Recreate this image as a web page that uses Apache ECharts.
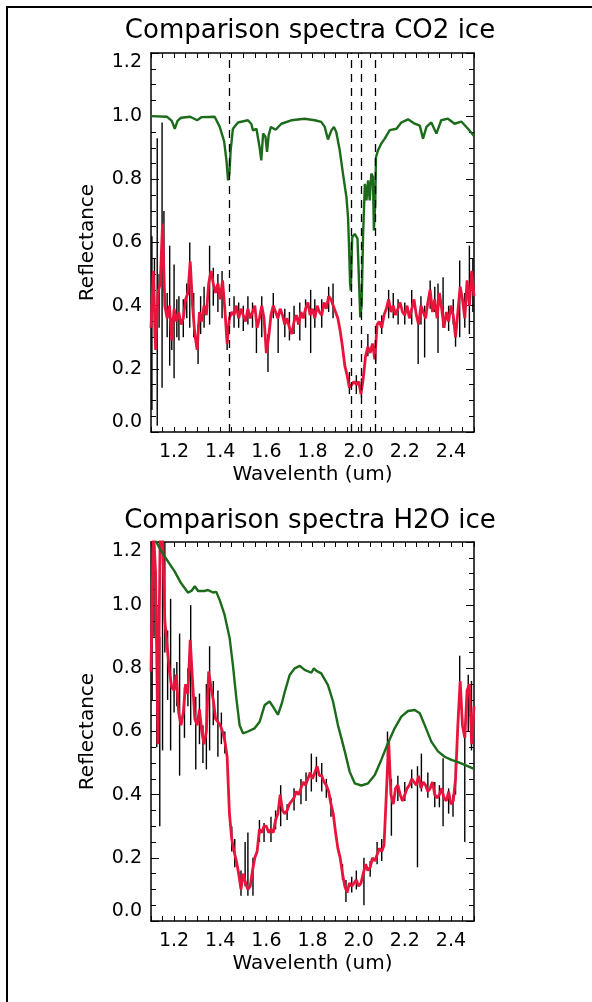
<!DOCTYPE html>
<html>
<head>
<meta charset="utf-8">
<title>Comparison spectra</title>
<script src="https://cdn.jsdelivr.net/npm/echarts@6/dist/echarts.min.js"></script>
<style>
  html, body { margin: 0; padding: 0; background: #fff; overflow: hidden; }
  #chart { width: 592px; height: 1002px; }
  .frame {
    position: absolute; left: 6px; top: 6px; width: 600px; height: 1010px;
    border-left: 2px solid #000; border-top: 2px solid #000; pointer-events: none;
  }
</style>
</head>
<body>
<div id="chart"></div>
<div class="frame"></div>
<script>
// wavelength grid of the measured spectra (um)
var waveStart = 1.10
var waveStep = 0.01

// CO2 panel: measured reflectance (red), one value per 0.01 um from 1.10 to 2.50
var co2Red = [
  0.33, 0.51, 0.26, 0.44, 0.47, 0.66, 0.40, 0.36, 0.40, 0.29,
  0.39, 0.35, 0.38, 0.34, 0.36, 0.42, 0.44, 0.54, 0.40, 0.31,
  0.26, 0.38, 0.35, 0.40, 0.37, 0.47, 0.51, 0.47, 0.44, 0.47,
  0.42, 0.48, 0.39, 0.28, 0.36, 0.38, 0.37, 0.40, 0.36, 0.39,
  0.37, 0.35, 0.39, 0.36, 0.38, 0.40, 0.33, 0.36, 0.40, 0.36,
  0.25, 0.30, 0.37, 0.40, 0.38, 0.36, 0.39, 0.37, 0.34, 0.36,
  0.33, 0.31, 0.35, 0.37, 0.34, 0.38, 0.36, 0.39, 0.41, 0.37,
  0.39, 0.36, 0.40, 0.38, 0.37, 0.41, 0.39, 0.43, 0.42, 0.40,
  0.38, 0.36, 0.32, 0.27, 0.21, 0.18, 0.14, 0.15, 0.16, 0.15,
  0.16, 0.12, 0.17, 0.24, 0.27, 0.25, 0.28, 0.23, 0.34, 0.35,
  0.33, 0.37, 0.39, 0.42, 0.38, 0.40, 0.37, 0.39, 0.41, 0.38,
  0.37, 0.40, 0.36, 0.39, 0.42, 0.37, 0.34, 0.40, 0.38, 0.36,
  0.41, 0.45, 0.38, 0.42, 0.36, 0.44, 0.39, 0.33, 0.38, 0.35,
  0.40, 0.37, 0.30, 0.38, 0.46, 0.42, 0.36, 0.48, 0.40, 0.51,
  0.43
]

// CO2 panel: noise bars of the raw spectrum [wavelength, low, high]
var co2Err = [
  [1.104, 0.07, 0.62], [1.115, 0.30, 0.55], [1.127, 0.02, 0.93], [1.135, 0.33, 0.50],
  [1.148, 0.14, 0.98], [1.156, 0.45, 0.70], [1.170, 0.30, 0.44], [1.181, 0.21, 0.59],
  [1.190, 0.26, 0.36], [1.200, 0.17, 0.53], [1.212, 0.30, 0.42], [1.221, 0.29, 0.43],
  [1.240, 0.30, 0.42], [1.255, 0.36, 0.47], [1.268, 0.33, 0.60], [1.285, 0.30, 0.44],
  [1.304, 0.215, 0.34], [1.315, 0.31, 0.43], [1.330, 0.33, 0.46], [1.354, 0.34, 0.59],
  [1.370, 0.40, 0.52], [1.390, 0.38, 0.50], [1.408, 0.36, 0.51], [1.430, 0.26, 0.33],
  [1.460, 0.33, 0.43], [1.480, 0.33, 0.41], [1.500, 0.32, 0.40], [1.520, 0.34, 0.43],
  [1.540, 0.33, 0.41], [1.557, 0.25, 0.36], [1.580, 0.30, 0.43], [1.607, 0.19, 0.31],
  [1.630, 0.36, 0.44], [1.651, 0.25, 0.36], [1.680, 0.30, 0.39], [1.700, 0.29, 0.38],
  [1.720, 0.31, 0.40], [1.745, 0.29, 0.41], [1.770, 0.33, 0.42], [1.792, 0.25, 0.45],
  [1.810, 0.33, 0.42], [1.840, 0.33, 0.42], [1.870, 0.38, 0.46], [1.889, 0.36, 0.47],
  [1.960, 0.12, 0.19], [1.990, 0.12, 0.18], [2.012, 0.11, 0.17], [2.040, 0.24, 0.31],
  [2.074, 0.215, 0.29], [2.100, 0.31, 0.37], [2.130, 0.36, 0.45], [2.150, 0.36, 0.44],
  [2.171, 0.34, 0.42], [2.200, 0.34, 0.41], [2.230, 0.34, 0.45], [2.258, 0.215, 0.36],
  [2.270, 0.34, 0.43], [2.286, 0.236, 0.40], [2.310, 0.39, 0.48], [2.330, 0.38, 0.46],
  [2.344, 0.25, 0.47], [2.366, 0.33, 0.49], [2.390, 0.32, 0.40], [2.410, 0.34, 0.42],
  [2.420, 0.27, 0.34], [2.438, 0.30, 0.543], [2.460, 0.33, 0.44], [2.480, 0.31, 0.59],
  [2.495, 0.38, 0.55]
]

// CO2 ice lab spectrum (green) [wavelength, reflectance]
var co2Lab = [
  [1.100, 1.000], [1.170, 0.998], [1.190, 0.985], [1.203, 0.960], [1.215, 0.985],
  [1.230, 0.995], [1.270, 0.998], [1.300, 0.987], [1.320, 0.997], [1.376, 0.998],
  [1.398, 0.966], [1.417, 0.920], [1.427, 0.860], [1.434, 0.797], [1.440, 0.820],
  [1.445, 0.890], [1.455, 0.960], [1.477, 0.980], [1.520, 0.987], [1.535, 0.975],
  [1.542, 0.955], [1.557, 0.960], [1.571, 0.900], [1.578, 0.860], [1.586, 0.945],
  [1.596, 0.935], [1.603, 0.887], [1.610, 0.940], [1.620, 0.966], [1.640, 0.957],
  [1.665, 0.976], [1.708, 0.987], [1.766, 0.992], [1.810, 0.987], [1.838, 0.982],
  [1.853, 0.966], [1.867, 0.926], [1.882, 0.955], [1.893, 0.966], [1.903, 0.950],
  [1.918, 0.892], [1.932, 0.818], [1.947, 0.744], [1.954, 0.680], [1.958, 0.596],
  [1.963, 0.469], [1.966, 0.448], [1.972, 0.617], [1.983, 0.627], [1.995, 0.612],
  [2.002, 0.469], [2.007, 0.363], [2.013, 0.400], [2.019, 0.617], [2.027, 0.786],
  [2.034, 0.733], [2.041, 0.797], [2.048, 0.733], [2.055, 0.818], [2.062, 0.808],
  [2.066, 0.638], [2.072, 0.723], [2.075, 0.870], [2.084, 0.892], [2.098, 0.913],
  [2.113, 0.929], [2.135, 0.956], [2.164, 0.960], [2.185, 0.980], [2.214, 0.990],
  [2.243, 0.976], [2.265, 0.970], [2.279, 0.929], [2.294, 0.966], [2.315, 0.980],
  [2.337, 0.945], [2.358, 0.987], [2.387, 0.992], [2.416, 0.976], [2.445, 0.983],
  [2.474, 0.960], [2.500, 0.937]
]

// CO2 band positions marked with dashed lines
var co2Bands = [1.435, 1.966, 2.013, 2.074]

// H2O panel: measured reflectance (red), one value per 0.01 um from 1.10 to 2.50
var h2oRed = [
  0.79, 1.25, 1.10, 0.56, 1.25, 1.22, 0.95, 0.87, 0.79, 0.74,
  0.73, 0.78, 0.66, 0.62, 0.66, 0.75, 0.72, 0.89, 0.76, 0.64,
  0.62, 0.67, 0.60, 0.56, 0.60, 0.79, 0.74, 0.70, 0.64, 0.63,
  0.62, 0.60, 0.57, 0.52, 0.34, 0.26, 0.22, 0.19, 0.15, 0.10,
  0.15, 0.12, 0.10, 0.11, 0.16, 0.20, 0.22, 0.29, 0.28, 0.30,
  0.30, 0.28, 0.29, 0.28, 0.32, 0.34, 0.40, 0.35, 0.34, 0.35,
  0.37, 0.38, 0.39, 0.41, 0.40, 0.42, 0.44, 0.43, 0.45, 0.47,
  0.45, 0.47, 0.49, 0.46, 0.46, 0.44, 0.43, 0.41, 0.37, 0.34,
  0.28, 0.23, 0.20, 0.15, 0.11, 0.09, 0.12, 0.11, 0.12, 0.13,
  0.11, 0.12, 0.15, 0.18, 0.16, 0.17, 0.20, 0.19, 0.21, 0.23,
  0.22, 0.24, 0.40, 0.57, 0.40, 0.37, 0.42, 0.43, 0.40, 0.38,
  0.40, 0.42, 0.43, 0.45, 0.44, 0.43, 0.46, 0.42, 0.44, 0.43,
  0.41, 0.42, 0.44, 0.40, 0.39, 0.40, 0.42, 0.39, 0.38, 0.41,
  0.37, 0.38, 0.45, 0.62, 0.76, 0.62, 0.58, 0.73, 0.75, 0.56,
  0.68
]

// H2O panel: noise bars of the raw spectrum [wavelength, low, high]
var h2oErr = [
  [1.105, 0.70, 1.20], [1.113, 0.90, 1.20], [1.125, 0.55, 1.00], [1.138, 0.30, 0.90],
  [1.150, 0.54, 1.20], [1.160, 0.85, 1.20], [1.172, 0.70, 0.92], [1.185, 0.54, 1.02],
  [1.200, 0.66, 0.80], [1.212, 0.68, 0.82], [1.224, 0.46, 0.91], [1.245, 0.58, 0.74],
  [1.260, 0.68, 0.80], [1.272, 0.62, 1.00], [1.294, 0.48, 0.71], [1.310, 0.56, 0.72],
  [1.325, 0.50, 0.62], [1.340, 0.48, 0.75], [1.354, 0.54, 0.87], [1.370, 0.62, 0.76],
  [1.390, 0.52, 0.73], [1.405, 0.56, 0.66], [1.420, 0.53, 0.60], [1.450, 0.22, 0.30],
  [1.463, 0.17, 0.26], [1.490, 0.08, 0.16], [1.508, 0.11, 0.25], [1.520, 0.08, 0.28],
  [1.542, 0.08, 0.20], [1.570, 0.25, 0.32], [1.590, 0.25, 0.31], [1.620, 0.25, 0.33],
  [1.640, 0.29, 0.35], [1.662, 0.30, 0.43], [1.690, 0.32, 0.37], [1.720, 0.35, 0.42],
  [1.750, 0.37, 0.45], [1.772, 0.38, 0.47], [1.795, 0.41, 0.53], [1.817, 0.44, 0.52],
  [1.840, 0.41, 0.50], [1.860, 0.39, 0.45], [1.880, 0.33, 0.39], [1.930, 0.13, 0.18],
  [1.945, 0.06, 0.13], [1.970, 0.09, 0.14], [1.990, 0.10, 0.16], [2.023, 0.05, 0.20],
  [2.050, 0.14, 0.19], [2.080, 0.18, 0.25], [2.100, 0.19, 0.26], [2.125, 0.52, 0.60],
  [2.142, 0.27, 0.45], [2.170, 0.38, 0.46], [2.200, 0.38, 0.44], [2.230, 0.42, 0.48],
  [2.255, 0.17, 0.49], [2.272, 0.41, 0.53], [2.300, 0.39, 0.47], [2.330, 0.36, 0.44],
  [2.350, 0.36, 0.43], [2.366, 0.30, 0.515], [2.390, 0.34, 0.42], [2.409, 0.33, 0.40],
  [2.420, 0.40, 0.50], [2.438, 0.68, 0.84], [2.460, 0.25, 0.60], [2.475, 0.60, 0.78],
  [2.489, 0.54, 0.76]
]

// H2O ice lab spectrum (green) [wavelength, reflectance]
var h2oLab = [
  [1.100, 1.260], [1.123, 1.200], [1.145, 1.170], [1.174, 1.138], [1.203, 1.106],
  [1.230, 1.070], [1.260, 1.040], [1.275, 1.045], [1.290, 1.060], [1.304, 1.045],
  [1.333, 1.045], [1.347, 1.048], [1.369, 1.040], [1.383, 1.042], [1.398, 1.016],
  [1.419, 0.969], [1.441, 0.895], [1.455, 0.810], [1.470, 0.705], [1.484, 0.620],
  [1.499, 0.594], [1.520, 0.600], [1.549, 0.610], [1.571, 0.631], [1.593, 0.684],
  [1.614, 0.695], [1.633, 0.674], [1.650, 0.653], [1.665, 0.684], [1.680, 0.726],
  [1.701, 0.779], [1.723, 0.800], [1.745, 0.808], [1.766, 0.795], [1.795, 0.786],
  [1.806, 0.800], [1.817, 0.792], [1.838, 0.784], [1.867, 0.747], [1.889, 0.695],
  [1.910, 0.621], [1.940, 0.537], [1.961, 0.473], [1.983, 0.436], [2.012, 0.429],
  [2.041, 0.436], [2.070, 0.462], [2.098, 0.510], [2.127, 0.563], [2.156, 0.610],
  [2.185, 0.647], [2.214, 0.665], [2.243, 0.668], [2.265, 0.658], [2.286, 0.621],
  [2.315, 0.568], [2.344, 0.537], [2.373, 0.520], [2.402, 0.510], [2.431, 0.503],
  [2.460, 0.494], [2.500, 0.482]
]

var font = 'DejaVu Sans'

function withWave (values) {
  return values.map(function (v, i) {
    return [+(waveStart + i * waveStep).toFixed(2), v]
  })
}

function errSeries (data, idx) {
  return {
    type: 'custom',
    xAxisIndex: idx * 2,
    yAxisIndex: idx * 2,
    z: 1,
    clip: true,
    data: data,
    encode: { x: 0, y: [1, 2] },
    renderItem: function (params, api) {
      var lo = api.coord([api.value(0), api.value(1)])
      var hi = api.coord([api.value(0), api.value(2)])
      return {
        type: 'line',
        shape: { x1: lo[0], y1: lo[1], x2: hi[0], y2: hi[1] },
        style: { stroke: '#000', lineWidth: 1.4 }
      }
    }
  }
}

function lineSeries (data, idx, color, width, z) {
  return {
    type: 'line',
    xAxisIndex: idx * 2,
    yAxisIndex: idx * 2,
    z: z,
    data: data,
    showSymbol: false,
    clip: true,
    lineStyle: { color: color, width: width },
    emphasis: { disabled: true }
  }
}

// x axes: bottom with labels, top only ticks (IDL style box)
function xAxes (gi) {
  var common = {
    type: 'value',
    gridIndex: gi,
    min: 1.1,
    max: 2.5,
    interval: 0.1,
    axisLine: { onZero: false, lineStyle: { color: '#000', width: 1.5 } },
    axisTick: { inside: true, length: 5, lineStyle: { color: '#000', width: 1 } },
    minorTick: { show: true, splitNumber: 2, length: 5, lineStyle: { color: '#000', width: 1 } },
    splitLine: { show: false }
  }
  var bottom = Object.assign({}, common, {
    position: 'bottom',
    name: 'Wavelenth (um)',
    nameLocation: 'middle',
    nameGap: 33,
    nameTextStyle: { fontFamily: font, fontSize: 20, color: '#000' },
    axisLabel: {
      margin: 11,
      fontFamily: font,
      fontSize: 19,
      color: '#000',
      formatter: function (v) {
        return Math.round(v * 10) % 2 === 0 ? v.toFixed(1) : ''
      }
    }
  })
  var top = Object.assign({}, common, { position: 'top', axisLabel: { show: false } })
  return [bottom, top]
}

function yAxes (gi) {
  var common = {
    type: 'value',
    gridIndex: gi,
    min: 0,
    max: 1.2,
    interval: 0.2,
    axisLine: { show: true, onZero: false, lineStyle: { color: '#000', width: 1.5 } },
    axisTick: { show: true, inside: true, length: 8, lineStyle: { color: '#000', width: 1 } },
    minorTick: { show: true, splitNumber: 4, length: 5, lineStyle: { color: '#000', width: 1 } },
    splitLine: { show: false }
  }
  var left = Object.assign({}, common, {
    position: 'left',
    name: 'Reflectance',
    nameLocation: 'middle',
    nameGap: 53,
    nameRotate: 90,
    nameTextStyle: { fontFamily: font, fontSize: 20, color: '#000' },
    axisLabel: {
      margin: 9,
      fontFamily: font,
      fontSize: 19,
      color: '#000',
      verticalAlignMinLabel: 'bottom',
      verticalAlignMaxLabel: 'top',
      formatter: function (v) { return v.toFixed(1) }
    }
  })
  var right = Object.assign({}, common, { position: 'right', axisLabel: { show: false } })
  return [left, right]
}

var chart = echarts.init(document.getElementById('chart'), null, { renderer: 'canvas' })

var co2Green = lineSeries(co2Lab, 0, '#1b6b1b', 2.4, 3)
co2Green.markLine = {
  silent: true,
  symbol: 'none',
  label: { show: false },
  lineStyle: { color: '#000', type: [8, 6], width: 1.3 },
  data: co2Bands.map(function (b) { return { xAxis: b } })
}

var option = {
  animation: false,
  backgroundColor: '#fff',
  graphic: [
    {
      type: 'text', x: 310, y: 31,
      style: { text: 'Comparison spectra CO2 ice', font: '26px "DejaVu Sans"', fill: '#000', align: 'center', verticalAlign: 'middle' }
    },
    {
      type: 'text', x: 310, y: 521,
      style: { text: 'Comparison spectra H2O ice', font: '26px "DejaVu Sans"', fill: '#000', align: 'center', verticalAlign: 'middle' }
    }
  ],
  grid: [
    { left: 151, top: 53, width: 323, height: 379 },
    { left: 151, top: 542, width: 323, height: 379 }
  ],
  xAxis: xAxes(0).concat(xAxes(1)),
  yAxis: yAxes(0).concat(yAxes(1)),
  series: [
    errSeries(co2Err, 0),
    lineSeries(withWave(co2Red), 0, '#e8143c', 2.8, 2),
    co2Green,
    errSeries(h2oErr, 1),
    lineSeries(withWave(h2oRed), 1, '#e8143c', 2.8, 2),
    lineSeries(h2oLab, 1, '#1b6b1b', 2.4, 3)
  ]
}

chart.setOption(option)
</script>
</body>
</html>
